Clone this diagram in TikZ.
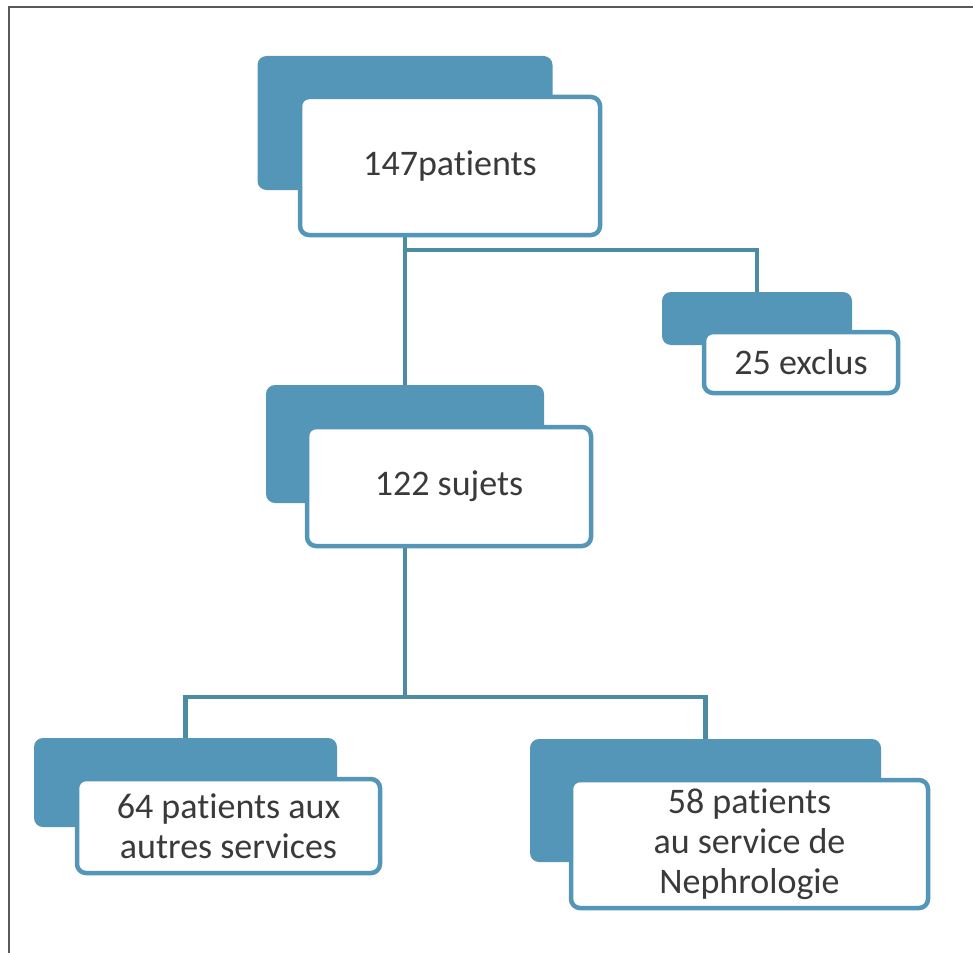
\documentclass[tikz,border=0pt]{standalone}
\usepackage{fontspec}
\setmainfont{Carlito}[Ligatures=NoCommon]
\usetikzlibrary{backgrounds}

\definecolor{boxblue}{RGB}{84,150,184}
\definecolor{linkblue}{RGB}{76,140,162}
\definecolor{txtgray}{RGB}{58,58,58}

\tikzset{
  backbox/.style={fill=boxblue, rounded corners=9pt, inner sep=0pt},
  frontbox/.style={draw=boxblue, line width=4.5pt, fill=white, rounded corners=9pt,
    inner sep=0pt, align=center, text=txtgray, font=\fontsize{36}{40}\selectfont},
  link/.style={draw=linkblue, line width=4.5pt},
  frame/.style={draw=black!65, line width=2.5pt}
}

\begin{document}
\begin{tikzpicture}[x=1pt, y=-1pt]
    \useasboundingbox (0,0) rectangle (973,952);
    \draw[frame] (9,970) |- (990,7);

    % top
    \node[backbox, minimum width=295pt, minimum height=134pt] (allback) at (405,123) {};
    \node[frontbox, minimum width=300pt, minimum height=138pt] (all) at (450,166) {147patients};

    \node[backbox, minimum width=190pt, minimum height=53pt] (exclback) at (757,318.5) {};
    \node[frontbox, minimum width=194pt, minimum height=61pt] (excl) at (801,362.5) {25 exclus};

    % middle
    \node[backbox, minimum width=278pt, minimum height=118pt] (subback) at (405,444) {};
    \node[frontbox, minimum width=284pt, minimum height=119pt] (sub) at (449,486.5) {122 sujets};

    % bottom
    \node[backbox, minimum width=303pt, minimum height=89pt] (otherback) at (185.5,782.5) {};
    \node[frontbox, minimum width=303pt, minimum height=94pt] (other) at (228.5,826)
      {64 patients aux\\autres services};

    \node[backbox, minimum width=351pt, minimum height=123pt] (nephback) at (705.5,800.5) {};
    \node[frontbox, minimum width=357pt, minimum height=128pt] (neph) at (749.5,844)
      {58 patients\\au service de\\Nephrologie};

    \coordinate (split1) at (405,250);
    \coordinate (split2) at (405,697);

    \begin{scope}[on background layer]
      \draw[link] (allback) -- (subback);
      \draw[link] (split1) -| (exclback);
      \draw[link] (subback) -- (split2);
      \draw[link] (split2) -| (otherback);
      \draw[link] (split2) -| (nephback);
    \end{scope}
\end{tikzpicture}
\end{document}
